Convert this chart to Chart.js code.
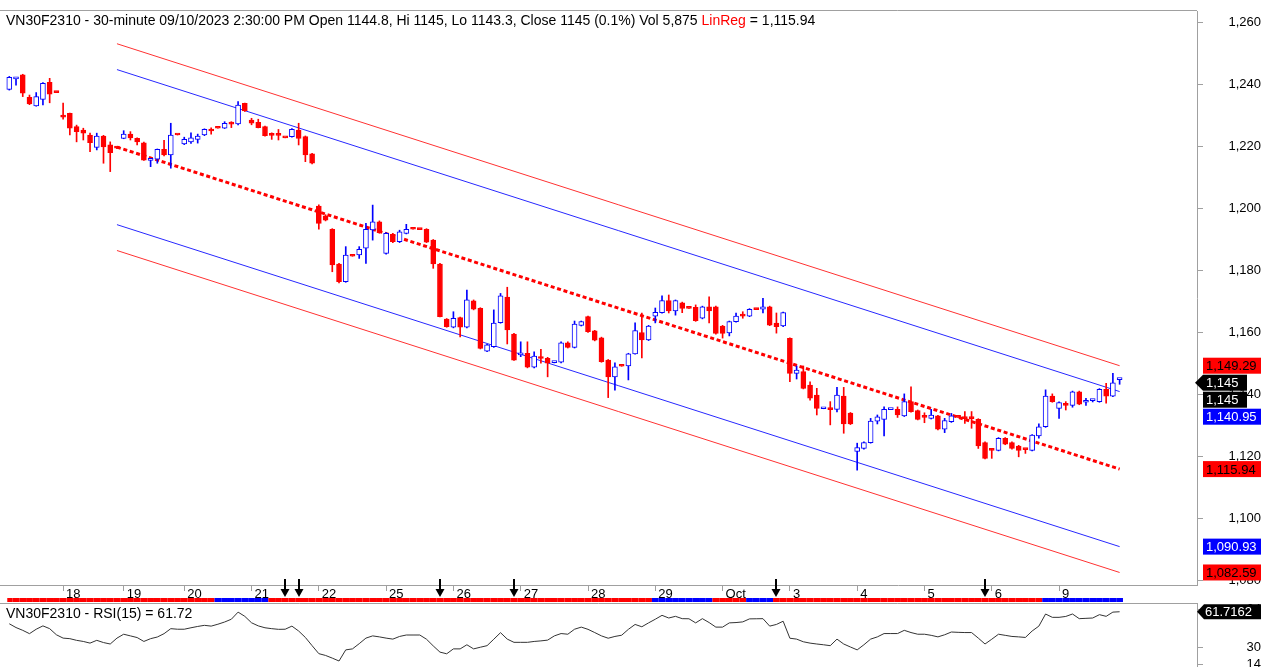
<!DOCTYPE html>
<html>
<head>
<meta charset="utf-8">
<script src="https://cdn.jsdelivr.net/npm/chart.js@4.4.0/dist/chart.umd.min.js"></script>
<style>
  body { margin: 0; background: #fff; }
  canvas { display: block; }
</style>
</head>
<body>
<canvas id="price" width="1261" height="603"></canvas>
<canvas id="rsi" width="1261" height="64"></canvas>
<script>
// 30-minute bars, 15 Sep -> 9 Oct 2023
const opens = [
  1238.4,1241.8,1243.1,1235.9,1233.1,1235.2,1240.7,1237.6,1229.8,1230.7,
  1226.4,1225.3,1223.7,1219.7,1223.4,1220.5,1219.8,1222.6,1224.0,1222.6,
  1221.2,1215.5,1215.9,1219.1,1217.3,1223.9,1220.8,1221.5,1222.3,1223.7,
  1225.2,1226.0,1225.9,1227.4,1227.3,1233.9,1228.5,1227.8,1226.4,1223.8,
  1223.8,1222.9,1223.2,1225.3,1223.2,1217.6,1200.8,1197.6,1193.3,1182.1,
  1176.4,1184.8,1185.0,1187.2,1193.1,1195.7,1185.5,1191.7,1189.3,1192.0,
  1193.5,1193.4,1193.3,1189.8,1182.1,1164.3,1161.7,1164.8,1161.7,1170.2,
  1167.8,1154.0,1155.4,1163.2,1171.4,1159.5,1152.8,1153.3,1148.8,1151.9,
  1151.7,1150.3,1150.4,1156.7,1155.2,1162.3,1165.1,1160.5,1158.3,1151.1,
  1145.7,1149.3,1149.2,1153.1,1160.0,1157.6,1165.3,1166.4,1170.3,1167.0,
  1169.6,1167.9,1168.1,1164.6,1168.3,1168.3,1162.1,1159.9,1163.5,1165.5,
  1165.3,1167.6,1167.5,1168.3,1163.0,1162.1,1158.1,1146.8,1147.4,1143.0,
  1139.8,1135.4,1135.3,1135.2,1139.5,1134.0,1121.6,1122.6,1124.5,1131.4,
  1132.0,1135.1,1135.2,1133.1,1137.7,1134.8,1132.8,1132.3,1133.1,1128.8,
  1131.2,1132.8,1132.4,1132.4,1132.0,1124.5,1122.2,1122.0,1125.9,1124.5,
  1123.4,1122.4,1122.0,1126.6,1129.6,1139.5,1135.5,1136.7,1136.5,1140.9,
  1137.5,1138.0,1137.7,1141.7,1139.5,1144.8
];
const highs = [
  1242.6,1242.2,1243.3,1236.6,1237.4,1240.6,1242.0,1237.6,1234.0,1230.8,
  1226.9,1225.9,1224.3,1224.3,1223.6,1221.5,1220.0,1225.1,1224.8,1222.8,
  1221.4,1216.0,1219.2,1222.0,1227.5,1223.9,1223.0,1224.4,1224.0,1225.7,
  1226.0,1226.0,1228.0,1228.0,1234.5,1234.0,1229.1,1228.8,1226.6,1224.4,
  1225.5,1222.9,1225.8,1227.5,1223.4,1217.8,1201.2,1198.0,1193.5,1182.3,
  1187.7,1184.8,1187.7,1195.2,1201.1,1196.0,1192.2,1192.0,1193.0,1194.9,
  1193.5,1193.4,1193.5,1190.0,1182.3,1164.5,1166.7,1165.0,1173.7,1170.5,
  1168.0,1156.2,1167.3,1172.6,1174.6,1159.7,1157.0,1157.0,1153.8,1154.6,
  1152.0,1150.5,1157.0,1157.0,1163.7,1163.7,1165.3,1160.7,1158.5,1151.3,
  1150.2,1149.3,1153.3,1163.1,1166.3,1162.3,1167.9,1171.8,1172.1,1170.5,
  1169.8,1167.9,1168.9,1168.5,1171.5,1168.5,1162.3,1163.7,1166.3,1166.7,
  1167.7,1167.6,1171.0,1168.5,1166.3,1166.6,1158.3,1149.2,1149.2,1144.1,
  1142.0,1135.6,1137.7,1142.3,1142.3,1134.2,1124.3,1124.7,1132.3,1133.4,
  1136.0,1135.3,1136.0,1140.2,1142.5,1135.0,1134.1,1135.2,1133.3,1132.3,
  1133.9,1132.8,1134.5,1134.5,1132.2,1124.7,1122.6,1126.1,1126.1,1124.7,
  1123.6,1122.4,1127.1,1130.5,1141.5,1140.2,1137.6,1137.7,1141.1,1141.1,
  1138.8,1138.4,1141.9,1143.6,1146.8,1145.0
];
const lows = [
  1238.2,1239.8,1236.1,1233.5,1233.0,1233.4,1234.1,1237.4,1228.8,1223.7,
  1221.5,1222.1,1218.3,1218.9,1214.6,1211.9,1219.3,1222.5,1222.1,1220.5,
  1215.5,1213.5,1214.6,1217.0,1213.0,1223.7,1220.6,1221.0,1221.1,1223.5,
  1224.0,1225.9,1225.8,1226.1,1227.0,1231.3,1227.0,1226.0,1223.3,1222.3,
  1222.1,1222.8,1223.0,1220.5,1215.1,1214.4,1193.3,1196.0,1179.6,1176.0,
  1176.2,1184.6,1183.9,1182.3,1189.8,1192.0,1185.3,1189.0,1189.0,1191.8,
  1193.3,1193.2,1189.0,1180.7,1165.0,1161.7,1161.5,1158.6,1161.5,1167.3,
  1154.7,1153.8,1155.2,1163.0,1156.3,1151.0,1152.2,1148.6,1148.6,1150.1,
  1145.7,1150.2,1150.2,1155.0,1155.0,1162.1,1160.0,1157.3,1150.4,1139.0,
  1141.4,1149.1,1144.7,1153.0,1151.8,1157.4,1163.1,1166.2,1166.3,1165.6,
  1166.4,1167.8,1163.6,1164.4,1163.1,1159.5,1158.2,1158.9,1163.3,1164.6,
  1165.1,1167.4,1166.3,1162.2,1159.8,1161.9,1144.1,1145.0,1141.8,1138.2,
  1133.4,1135.4,1130.2,1134.4,1127.5,1130.3,1115.6,1122.4,1124.3,1130.5,
  1126.6,1135.1,1132.6,1132.9,1134.3,1131.8,1130.9,1132.1,1128.6,1127.7,
  1131.0,1132.6,1130.7,1129.1,1122.6,1119.2,1119.4,1121.8,1123.8,1122.4,
  1119.9,1121.0,1121.8,1125.9,1129.4,1137.5,1132.3,1135.0,1135.9,1136.7,
  1136.5,1137.6,1137.5,1137.2,1139.3,1143.3
];
const closes = [
  1242.3,1242.1,1237.2,1233.7,1236.1,1240.4,1236.9,1237.4,1229.5,1225.9,
  1224.8,1224.3,1221.2,1223.4,1219.9,1218.0,1219.5,1224.0,1222.8,1221.5,
  1215.6,1215.8,1219.1,1217.3,1223.7,1223.7,1222.3,1222.8,1223.4,1225.5,
  1225.0,1225.9,1227.5,1227.2,1233.4,1231.5,1227.5,1226.1,1223.5,1223.6,
  1223.6,1222.8,1225.5,1222.6,1217.3,1214.6,1195.2,1196.2,1181.8,1176.4,
  1185.0,1184.6,1186.8,1193.3,1195.7,1192.2,1192.0,1189.3,1192.5,1193.3,
  1193.3,1193.2,1189.1,1182.1,1165.1,1161.9,1164.6,1161.7,1170.5,1167.5,
  1154.9,1156.0,1163.0,1171.8,1160.8,1151.1,1153.1,1148.8,1152.4,1151.6,
  1150.1,1150.5,1156.7,1155.2,1162.7,1163.5,1160.3,1157.5,1150.6,1145.7,
  1148.9,1149.1,1153.1,1160.6,1157.6,1162.1,1166.5,1170.3,1167.0,1170.3,
  1167.8,1167.8,1163.8,1168.3,1167.0,1159.7,1159.7,1163.5,1165.3,1165.3,
  1167.5,1167.4,1168.3,1162.4,1161.9,1166.4,1146.8,1147.9,1142.0,1138.8,
  1135.5,1135.6,1135.1,1139.8,1130.5,1130.5,1122.9,1124.5,1131.4,1132.8,
  1135.2,1135.3,1133.4,1137.7,1134.5,1132.0,1132.6,1133.4,1128.8,1131.6,
  1133.1,1132.6,1132.2,1132.2,1123.4,1119.4,1122.0,1125.9,1124.0,1122.6,
  1122.0,1122.2,1126.9,1129.6,1139.5,1137.7,1137.4,1136.5,1140.9,1136.9,
  1137.8,1138.2,1141.7,1139.5,1143.8,1145.0
];
const rsiValues = [
  50.9,47.5,45.0,42.0,46.0,49.0,46.5,41.0,38.0,37.5,
  36.0,35.0,33.5,36.0,34.0,32.7,38.0,41.5,40.0,38.5,
  35.0,37.5,39.0,42.0,46.5,46.0,46.0,47.3,48.5,49.5,
  48.8,50.5,52.5,55.0,61.4,57.6,51.8,49.0,47.3,46.5,
  45.9,46.0,48.8,44.4,38.6,31.2,24.0,22.4,20.0,17.4,
  27.4,28.3,33.0,38.0,40.0,39.1,38.0,37.1,39.5,40.8,
  40.8,40.8,37.0,31.0,25.4,23.9,28.3,28.3,32.0,28.3,
  29.8,31.2,37.0,42.9,37.1,34.2,34.2,34.2,35.0,35.5,
  36.2,40.0,42.1,41.5,46.0,47.9,45.9,43.0,40.0,37.9,
  39.5,40.6,45.9,50.3,48.2,51.7,55.0,58.5,56.1,57.6,
  55.5,55.4,51.7,55.5,52.0,47.9,47.9,51.7,52.0,52.6,
  55.3,55.4,55.5,48.8,50.3,53.2,37.9,37.1,34.7,33.5,
  32.7,32.0,31.2,37.1,32.7,30.0,27.4,32.0,37.1,39.1,
  42.1,42.1,42.1,45.0,43.0,41.5,41.5,40.5,39.1,41.0,
  43.5,43.2,43.0,43.0,38.0,32.7,37.0,41.5,40.5,39.5,
  39.1,38.6,44.4,48.8,59.7,56.7,56.7,57.5,59.7,55.5,
  55.8,56.1,59.1,57.6,61.4,61.72
];
const lastRsi = 61.7162;
const lastVolume = 5875;

const dayStarts = [8, 17, 26, 36, 46, 56, 66, 76, 86, 96, 106, 116, 126, 136, 146, 156];
const dayLabels = ['18', '19', '20', '21', '22', '25', '26', '27', '28', '29', 'Oct', '3', '4', '5', '6', '9'];
const priceTicks = [1080, 1100, 1120, 1140, 1160, 1180, 1200, 1220, 1240, 1260];
const rsiTicks = [64, 30, 14];

// linear regression channel, first and last bar of the 150-bar window
const regBars = [16, 165];
const regMid = [1219.80, 1115.94];
const regInnerUp = [1244.81, 1140.95];
const regInnerDown = [1194.79, 1090.93];
const regOuterUp = [1253.15, 1149.29];
const regOuterDown = [1186.45, 1082.59];

// trend ribbon under the dates: blue runs, red elsewhere
const blueRuns = [[31, 38], [96, 104], [110, 113], [154, 165]];
// down-arrow signals
const signalBars = [41, 43, 64, 75, 114, 145];

const BLUE = '#0000ff';
const RED = '#ff0000';
const AXIS = '#a0a0a0';
const FONT = "'Liberation Sans', Arial, sans-serif";
const xMin = -1.38, xMax = 176.5;
const priceMin = 1078.55, priceMax = 1263.71;
const rsiMin = 12, rsiMax = 69.6;

Chart.defaults.font.family = FONT;
Chart.defaults.font.size = 13;
Chart.defaults.color = '#000';

const last = closes.length - 1;
const bars = closes.map((c, i) => i);
const isUp = i => closes[i] >= opens[i];
const fmt = (v, d) => v.toLocaleString('en-US', { minimumFractionDigits: d, maximumFractionDigits: d });

function channelLine(vals, color, width, dash) {
  return {
    type: 'line',
    data: [{ x: regBars[0], y: vals[0] }, { x: regBars[1], y: vals[1] }],
    borderColor: color,
    borderWidth: width,
    borderDash: dash || [],
    pointRadius: 0,
    tension: 0,
    order: 3
  };
}

const overlayPrice = {
  id: 'overlayPrice',
  afterDraw(chart) {
    const ctx = chart.ctx;
    const xs = chart.scales.x;
    const ys = chart.scales.y;
    const area = chart.chartArea;
    ctx.save();

    // top border
    ctx.strokeStyle = AXIS;
    ctx.lineWidth = 1;
    ctx.beginPath();
    ctx.moveTo(0, 10.5);
    ctx.lineTo(area.right, 10.5);
    ctx.stroke();

    // title
    ctx.font = '14px ' + FONT;
    ctx.textBaseline = 'alphabetic';
    ctx.textAlign = 'left';
    let tx = 6;
    const parts = [
      ['VN30F2310 - 30-minute 09/10/2023 2:30:00 PM Open ' + opens[last] + ', Hi ' + highs[last] +
        ', Lo ' + lows[last] + ', Close ' + closes[last] + ' (0.1%) Vol ' + fmt(lastVolume, 0) + ' ', '#000'],
      ['LinReg', RED],
      [' = ' + fmt(regMid[1], 2), '#000']
    ];
    parts.forEach(([s, c]) => {
      ctx.fillStyle = c;
      ctx.fillText(s, tx, 25);
      tx += ctx.measureText(s).width;
    });

    // trend ribbon
    bars.forEach(i => {
      const blue = blueRuns.some(([a, b]) => i >= a && i <= b);
      const x0 = xs.getPixelForValue(i === 0 ? i - 0.3 : i - 0.5);
      const x1 = xs.getPixelForValue(i + 0.5);
      ctx.fillStyle = blue ? BLUE : RED;
      ctx.fillRect(x0, 598, x1 - x0, 4);
    });

    // arrows
    ctx.fillStyle = '#000';
    signalBars.forEach(b => {
      const x = Math.round(xs.getPixelForValue(b));
      ctx.fillRect(x - 1, 579, 2, 11);
      ctx.beginPath();
      ctx.moveTo(x - 4.5, 589);
      ctx.lineTo(x + 4.5, 589);
      ctx.lineTo(x, 597);
      ctx.closePath();
      ctx.fill();
    });

    // value tags on the price axis
    const tags = [
      { v: regOuterUp[1], bg: RED, fg: '#000', text: fmt(regOuterUp[1], 2) },
      { v: closes[last], bg: '#000', fg: '#fff', text: fmt(closes[last], 0), arrow: true, w: 44 },
      { v: closes[last], bg: '#000', fg: '#fff', text: fmt(closes[last], 0), w: 44 },
      { v: regInnerUp[1], bg: BLUE, fg: '#fff', text: fmt(regInnerUp[1], 2) },
      { v: regMid[1], bg: RED, fg: '#000', text: fmt(regMid[1], 2) },
      { v: regInnerDown[1], bg: BLUE, fg: '#fff', text: fmt(regInnerDown[1], 2) },
      { v: regOuterDown[1], bg: RED, fg: '#000', text: fmt(regOuterDown[1], 2) }
    ];
    ctx.font = '13px ' + FONT;
    let prevBottom = -Infinity;
    const h = 16;
    ctx.textBaseline = 'middle';
    tags.forEach(t => {
      let cy = ys.getPixelForValue(t.v);
      if (cy - h / 2 < prevBottom + 1) cy = prevBottom + 1 + h / 2;
      prevBottom = cy + h / 2;
      const left = area.right + 6;
      const w = t.w || (chart.width - left);
      ctx.fillStyle = t.bg;
      ctx.fillRect(left, cy - h / 2, w, h);
      if (t.arrow) {
        ctx.beginPath();
        ctx.moveTo(area.right - 2, cy);
        ctx.lineTo(left, cy - h / 2);
        ctx.lineTo(left, cy + h / 2);
        ctx.closePath();
        ctx.fill();
      }
      ctx.fillStyle = t.fg;
      ctx.fillText(t.text, left + 3, cy + 1);
    });
    ctx.restore();
  }
};

new Chart(document.getElementById('price'), {
  type: 'bar',
  data: {
    datasets: [
      channelLine(regOuterUp, 'rgb(255,50,50)', 1),
      channelLine(regInnerUp, 'rgb(40,40,255)', 1),
      channelLine(regMid, RED, 3, [4, 2.7]),
      channelLine(regInnerDown, 'rgb(40,40,255)', 1),
      channelLine(regOuterDown, 'rgb(255,50,50)', 1),
      {
        label: 'wick',
        data: bars.map(i => ({ x: i, y: [lows[i], highs[i]] })),
        backgroundColor: ctx => isUp(ctx.dataIndex) ? BLUE : RED,
        borderWidth: 0,
        barThickness: 1,
        grouped: false,
        order: 2
      },
      {
        label: 'body',
        data: bars.map(i => ({ x: i, y: [opens[i], closes[i]] })),
        backgroundColor: ctx => isUp(ctx.dataIndex) ? '#fff' : RED,
        borderColor: ctx => isUp(ctx.dataIndex) ? BLUE : RED,
        borderWidth: 1,
        borderSkipped: false,
        barThickness: 5,
        minBarLength: 2,
        grouped: false,
        order: 1
      }
    ]
  },
  options: {
    responsive: false,
    animation: false,
    events: [],
    layout: { padding: { top: 11, left: 0, right: 0, bottom: 0 } },
    plugins: { legend: { display: false }, tooltip: { enabled: false } },
    scales: {
      x: {
        type: 'linear',
        min: xMin,
        max: xMax,
        offset: false,
        grid: { offset: false, drawOnChartArea: false, tickLength: 6, color: AXIS },
        border: { color: AXIS },
        ticks: {
          autoSkip: false,
          maxRotation: 0,
          align: 'start',
          labelOffset: 3,
          padding: -4,
          color: '#000',
          callback: (v, idx) => dayLabels[idx]
        },
        afterBuildTicks: axis => { axis.ticks = dayStarts.map(v => ({ value: v })); },
        afterFit: axis => { axis.height = 18; axis.paddingLeft = 0; axis.paddingRight = 0; }
      },
      y: {
        type: 'linear',
        position: 'right',
        min: priceMin,
        max: priceMax,
        grid: { drawOnChartArea: false, tickLength: 6, color: AXIS },
        border: { color: AXIS },
        ticks: {
          autoSkip: false,
          crossAlign: 'far',
          padding: 22,
          color: '#000',
          callback: v => fmt(v, 0)
        },
        afterBuildTicks: axis => { axis.ticks = priceTicks.map(v => ({ value: v })); },
        afterFit: axis => { axis.width = 64; axis.paddingTop = 0; axis.paddingBottom = 0; }
      }
    }
  },
  plugins: [overlayPrice]
});

const overlayRsi = {
  id: 'overlayRsi',
  afterDraw(chart) {
    const ctx = chart.ctx;
    const ys = chart.scales.y;
    const area = chart.chartArea;
    ctx.save();
    ctx.strokeStyle = AXIS;
    ctx.beginPath();
    ctx.moveTo(0, 0.5);
    ctx.lineTo(area.right, 0.5);
    ctx.stroke();

    ctx.font = '14px ' + FONT;
    ctx.fillStyle = '#000';
    ctx.textBaseline = 'alphabetic';
    ctx.fillText('VN30F2310 - RSI(15) = ' + rsiValues[last].toFixed(2), 6, 15);

    ctx.font = '13px ' + FONT;
    const cy = ys.getPixelForValue(lastRsi);
    const left = area.right + 7;
    const h = 15;
    ctx.beginPath();
    ctx.moveTo(area.right, cy);
    ctx.lineTo(left, cy - h / 2);
    ctx.lineTo(chart.width, cy - h / 2);
    ctx.lineTo(chart.width, cy + h / 2);
    ctx.lineTo(left, cy + h / 2);
    ctx.closePath();
    ctx.fill();
    ctx.fillStyle = '#fff';
    ctx.textBaseline = 'middle';
    ctx.fillText(lastRsi.toFixed(4), left + 1, cy + 1);
    ctx.restore();
  }
};

new Chart(document.getElementById('rsi'), {
  type: 'line',
  data: {
    datasets: [{
      data: bars.map(i => ({ x: i, y: rsiValues[i] })),
      borderColor: '#333',
      borderWidth: 1,
      pointRadius: 0,
      tension: 0
    }]
  },
  options: {
    responsive: false,
    animation: false,
    events: [],
    layout: { padding: 0 },
    plugins: { legend: { display: false }, tooltip: { enabled: false } },
    scales: {
      x: { type: 'linear', min: xMin, max: xMax, display: false },
      y: {
        type: 'linear',
        position: 'right',
        min: rsiMin,
        max: rsiMax,
        grid: { drawOnChartArea: false, tickLength: 6, color: AXIS },
        border: { color: AXIS },
        ticks: { autoSkip: false, crossAlign: 'far', padding: 39, color: '#000' },
        afterBuildTicks: axis => { axis.ticks = rsiTicks.map(v => ({ value: v })); },
        afterFit: axis => { axis.width = 64; axis.paddingTop = 0; axis.paddingBottom = 0; }
      }
    }
  },
  plugins: [overlayRsi]
});
</script>
</body>
</html>
